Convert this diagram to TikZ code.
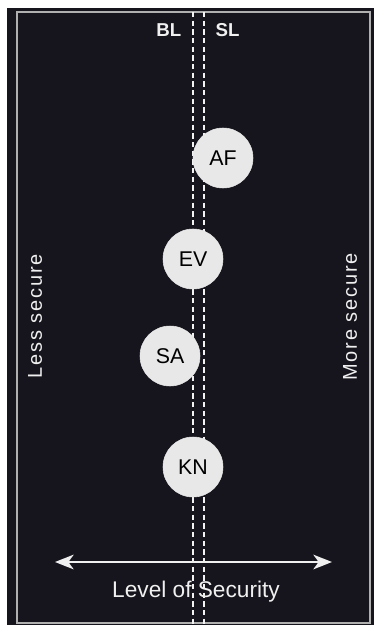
\documentclass[tikz,border=0pt]{standalone}
\usepackage{fontspec}
\setmainfont{Liberation Sans}
\usetikzlibrary{arrows.meta}

\definecolor{panel}{HTML}{16141C}
\definecolor{frame}{HTML}{B0B0B0}
\definecolor{disc}{HTML}{E8E8E8}
\definecolor{ink}{HTML}{F0F0F0}

\tikzset{
    scheme/.style={circle, fill=disc, draw=disc, minimum size=45pt, inner sep=0pt,
        text=black, font=\fontsize{16}{18}\selectfont},
    limit/.style={draw=ink!90, line width=1.5pt, dash pattern=on 4pt off 2.5pt},
    side/.style={text=ink, rotate=90, font=\fontsize{15}{18}\selectfont\addfontfeature{LetterSpace=9}},
}

\begin{document}
\begin{tikzpicture}[x=0.75pt, y=-0.75pt]
        \useasboundingbox (0, 0) rectangle (374, 625);
        \fill [panel] (7, 8) rectangle (374, 625);
        \draw [frame, line width=2pt] (17, 12) rectangle (370, 623);

        % the two security lines
        \coordinate (BLtop) at (193, 12);
        \coordinate (BLbot) at (193, 625);
        \coordinate (SLtop) at (204, 12);
        \coordinate (SLbot) at (204, 625);
        \draw [limit] (BLtop) -- (BLbot);
        \draw [limit] (SLtop) -- (SLbot);

        \node (BL) [anchor=east, text=ink, font=\fontsize{14}{16}\selectfont\bfseries] at (186, 30) {BL};
        \node (SL) [anchor=west, text=ink, font=\fontsize{14}{16}\selectfont\bfseries] at (211, 30) {SL};

        \node (AF) [scheme] at (223, 158) {AF};
        \node (EV) [scheme] at (193, 259) {EV};
        \node (SA) [scheme] at (170, 356) {SA};
        \node (KN) [scheme] at (193, 467) {KN};

        \node (less) [side] at (35, 316) {Less secure};
        \node (more) [side] at (350, 317) {More secure};

        \coordinate (low) at (55, 562);
        \coordinate (high) at (332, 562);
        \draw [ink, line width=1.5pt, {Stealth[length=14pt, width=11pt, inset=4pt]}-{Stealth[length=14pt, width=11pt, inset=4pt]}] (low) -- (high);
        \node (level) [text=ink, font=\fontsize{17}{20}\selectfont] at (196, 592) {Level of Security};
    \end{tikzpicture}
\end{document}
